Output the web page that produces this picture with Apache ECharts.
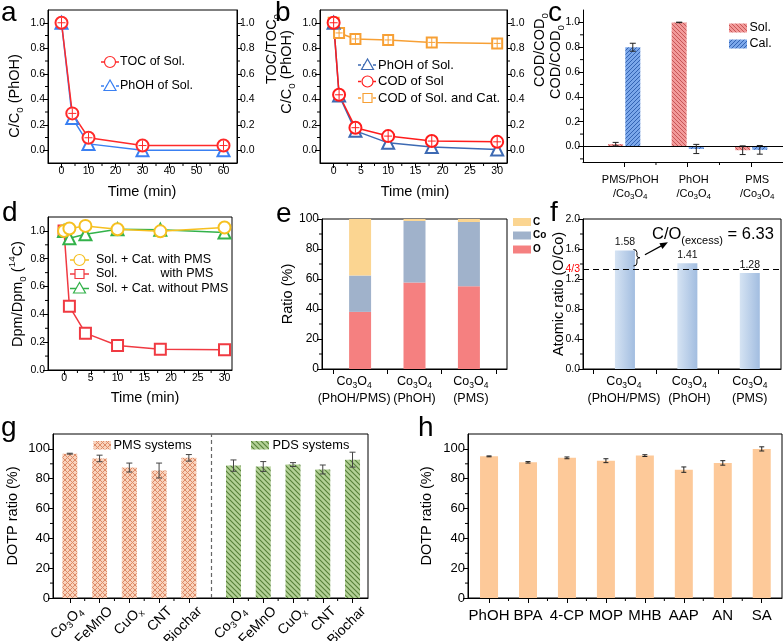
<!DOCTYPE html>
<html><head><meta charset="utf-8">
<script src="https://cdn.jsdelivr.net/npm/echarts@6.0.0/dist/echarts.min.js"></script>
<style>html,body{margin:0;padding:0;background:#fff;overflow:hidden}#chart{width:783px;height:641px}</style>
</head><body><div id="chart"></div>
<script>
// ====================== DATA ======================
// (a)
const aTime = [0, 4, 10, 30, 60];
const aTOC = [1.0, 0.289, 0.098, 0.037, 0.037];
const aPhOH = [1.0, 0.252, 0.05, 0.0, 0.0];
const aXTicks = [0, 10, 20, 30, 40, 50, 60];
const aXMinor = [5, 15, 25, 35, 45, 55];
// shared 0..1 ticks
const unitTicks = [0, 0.2, 0.4, 0.6, 0.8, 1.0];
const unitMinor = [0.1, 0.3, 0.5, 0.7, 0.9];
// (b)
const bTime = [0, 1, 4, 10, 18, 30];
const bPhOH = [1.0, 0.43, 0.152, 0.058, 0.026, 0.006];
const bCODSol = [1.0, 0.435, 0.177, 0.111, 0.072, 0.066];
const bCODSolCat = [1.0, 0.92, 0.873, 0.865, 0.846, 0.838];
const timeTicks30 = [0, 5, 10, 15, 20, 25, 30];
const timeMinor30 = [2.5, 7.5, 12.5, 17.5, 22.5, 27.5];
// (c)
const cCats = ['PMS/PhOH\n/Co_{3}O_{4}', 'PhOH\n/Co_{3}O_{4}', 'PMS\n/Co_{3}O_{4}'];
const cSol = [0.019, 1.0, -0.03];
const cSolErr = [0.014, 0.002, 0.035];
const cCal = [0.80, -0.02, -0.027];
const cCalErr = [0.032, 0.037, 0.035];
const cYMinor = [-0.1, 0.1, 0.3, 0.5, 0.7, 0.9];
// (d)
const dTime = [0, 1, 4, 10, 18, 30];
const dCatPMS = [1.0, 1.017, 1.036, 1.012, 0.997, 1.024];
const dSolPMS = [1.0, 0.458, 0.265, 0.176, 0.15, 0.145];
const dCatNoPMS = [1.0, 0.947, 0.976, 1.012, 1.008, 0.988];
// (e)
const eCats = ['Co_{3}O_{4}\n(PhOH/PMS)', 'Co_{3}O_{4}\n(PhOH)', 'Co_{3}O_{4}\n(PMS)'];
const eO = [38.1, 57.6, 55.2];
const eCo = [24.2, 41.1, 42.8];
const eC = [37.7, 1.3, 2.0];
const pctTicks = [0, 20, 40, 60, 80, 100];
const pctMinor = [10, 30, 50, 70, 90];
// (f)
const fCats = ['Co_{3}O_{4}\n(PhOH/PMS)', 'Co_{3}O_{4}\n(PhOH)', 'Co_{3}O_{4}\n(PMS)'];
const fRatio = [1.58, 1.41, 1.28];
const fRef = 4 / 3;
const fExcess = 6.33;
const fYTicks = [0, 0.4, 0.8, 1.2, 1.6, 2.0];
const fYMinor = [0.2, 0.6, 1.0, 1.4, 1.8];
// (g)
const gCats = ['Co_{3}O_{4}', 'FeMnO', 'CuO_{x}', 'CNT', 'Biochar'];
const gPMS = [96.8, 93.6, 87.5, 85.5, 94.0];
const gPMSErr = [0.3, 2.2, 3.0, 5.0, 2.2];
const gPDS = [88.8, 88.2, 89.5, 86.2, 92.8];
const gPDSErr = [3.8, 3.3, 1.3, 3.0, 5.0];
// (h)
const hCats = ['PhOH', 'BPA', '4-CP', 'MOP', 'MHB', 'AAP', 'AN', 'SA'];
const hDOTP = [95.0, 91.0, 94.0, 92.1, 95.5, 86.1, 90.6, 100.0];
const hErr = [0.3, 0.5, 0.6, 1.3, 0.6, 1.8, 1.5, 1.4];

// ====================== HELPERS ======================
const FONT = 'Liberation Sans';
function rt(s) {
  return s.split('\n').map(line => {
    let out = '', last = 0, m; const re = /([_^])\{([^}]*)\}/g;
    while ((m = re.exec(line))) {
      if (m.index > last) out += '{n|' + line.slice(last, m.index) + '}';
      out += '{' + (m[1] === '_' ? 's' : 'p') + '|' + m[2] + '}';
      last = re.lastIndex;
    }
    if (last < line.length) out += '{n|' + line.slice(last) + '}';
    return out;
  }).join('\n');
}
function rs(F, lh, color, weight, subF) {
  const sf = subF || Math.round(F * 0.68 * 10) / 10;
  const c = color || '#000';
  const base = { fontFamily: FONT, color: c, fill: c, fontWeight: weight || 'normal' };
  return {
    n: Object.assign({ fontSize: F, lineHeight: lh || Math.round(F * 1.45) }, base),
    s: Object.assign({ fontSize: sf, verticalAlign: 'bottom' }, base),
    p: Object.assign({ fontSize: sf, verticalAlign: 'top' }, base)
  };
}
const grids = [], xAxes = [], yAxes = [], series = [];
function G(l, t, r, b, frame) {
  grids.push({ left: l, top: t, width: r - l, height: b - t, show: !!frame, borderColor: '#000', borderWidth: 1, backgroundColor: 'transparent' });
  return grids.length - 1;
}
function AX(arr, gi, pos, min, max, ticks, labels, fmt, o) {
  o = o || {};
  const lab = { show: !!labels, formatter: fmt, fontSize: o.fs || 10.5, fontFamily: FONT, color: '#000', margin: o.m != null ? o.m : 3, rotate: o.rot || 0, showMinLabel: true, showMaxLabel: true, hideOverlap: false };
  if (labels) lab.customValues = labels;
  if (o.rich) lab.rich = o.rich;
  if (o.pad) lab.padding = o.pad;
  arr.push({
    type: 'value', gridIndex: gi, position: pos, min: min, max: max,
    axisLine: { show: true, onZero: false, lineStyle: { color: '#000', width: 1 } },
    axisTick: { show: ticks.length > 0, inside: false, length: o.tl || 5, customValues: ticks, lineStyle: { color: '#000', width: 1 } },
    axisLabel: lab,
    splitLine: { show: false }, minorTick: { show: false }, z: 10
  });
  return arr.length - 1;
}
function minorS(xi, yi, vals, side, anchor, len) {
  len = len || 3;
  series.push({
    type: 'custom', coordinateSystem: 'cartesian2d', xAxisIndex: xi, yAxisIndex: yi, silent: true, clip: false, z: 10,
    data: vals.map(v => [v, v]),
    renderItem: (p, api) => {
      const v = api.value(0); let c;
      if (side === 'left' || side === 'right') {
        c = api.coord([anchor, v]); const dx = side === 'left' ? -len : len;
        return { type: 'line', shape: { x1: c[0], y1: c[1], x2: c[0] + dx, y2: c[1] }, style: { stroke: '#000', lineWidth: 1 } };
      }
      c = api.coord([v, anchor]);
      return { type: 'line', shape: { x1: c[0], y1: c[1], x2: c[0], y2: c[1] + len }, style: { stroke: '#000', lineWidth: 1 } };
    }
  });
}
function lineS(xi, yi, xs, ys, color, symbol, size) {
  series.push({
    type: 'line', xAxisIndex: xi, yAxisIndex: yi, data: xs.map((x, i) => [x, ys[i]]),
    symbol: symbol, symbolSize: size || 11, showSymbol: true, silent: true, clip: false, z: 3,
    lineStyle: { color: color, width: 1.5 }, itemStyle: { color: color, borderColor: color, borderWidth: 1.2 }
  });
}
function plusS(xi, yi, xs, ys, color, r) {
  series.push({
    type: 'custom', coordinateSystem: 'cartesian2d', xAxisIndex: xi, yAxisIndex: yi, silent: true, clip: false, z: 4,
    data: xs.map((x, i) => [x, ys[i]]),
    renderItem: (p, api) => {
      const c = api.coord([api.value(0), api.value(1)]);
      return { type: 'group', children: [
        { type: 'line', shape: { x1: c[0], y1: c[1] - r, x2: c[0], y2: c[1] + r }, style: { stroke: color, lineWidth: 1 } },
        { type: 'line', shape: { x1: c[0] - r + 1, y1: c[1], x2: c[0] + r - 1, y2: c[1] }, style: { stroke: color, lineWidth: 1 } }
      ] };
    }
  });
}
function barS(xi, yi, data, w, fill, label) {
  series.push({
    type: 'custom', coordinateSystem: 'cartesian2d', xAxisIndex: xi, yAxisIndex: yi, silent: true, clip: false, z: 2,
    data: data,
    renderItem: (p, api) => {
      const x = api.value(0), y0 = api.value(1), y1 = api.value(2);
      const a = api.coord([x, y0]), b = api.coord([x, y1]);
      const top = Math.min(a[1], b[1]);
      const ch = [{ type: 'rect', shape: { x: a[0] - w / 2, y: top, width: w, height: Math.abs(a[1] - b[1]) }, style: { fill: fill } }];
      if (label) ch.push({ type: 'text', x: a[0], y: top - 2.5, style: { text: y1.toFixed(2), fontSize: 10.5, fontFamily: FONT, fill: '#111', align: 'center', verticalAlign: 'bottom', textAlign: 'center', textVerticalAlign: 'bottom' } });
      return { type: 'group', children: ch };
    }
  });
}
function errS(xi, yi, data, cap, color) {
  series.push({
    type: 'custom', coordinateSystem: 'cartesian2d', xAxisIndex: xi, yAxisIndex: yi, silent: true, clip: false, z: 5,
    data: data,
    renderItem: (p, api) => {
      const x = api.value(0), y = api.value(1), e = api.value(2);
      const t = api.coord([x, y + e]), b = api.coord([x, y - e]); const hw = cap / 2;
      const st = { stroke: color, lineWidth: 1 };
      return { type: 'group', children: [
        { type: 'line', shape: { x1: t[0], y1: t[1], x2: b[0], y2: b[1] }, style: st },
        { type: 'line', shape: { x1: t[0] - hw, y1: t[1], x2: t[0] + hw, y2: t[1] }, style: st },
        { type: 'line', shape: { x1: b[0] - hw, y1: b[1], x2: b[0] + hw, y2: b[1] }, style: st }
      ] };
    }
  });
}
function hatch(bg, fg, size, dirs, lw) {
  const c = document.createElement('canvas'); c.width = size; c.height = size;
  const g = c.getContext('2d'); g.fillStyle = bg; g.fillRect(0, 0, size, size);
  g.strokeStyle = fg; g.lineWidth = lw || 1;
  dirs.forEach(d => {
    g.beginPath();
    if (d === '\\') { g.moveTo(-1, -1); g.lineTo(size + 1, size + 1); g.moveTo(-2, size - 2); g.lineTo(2, size + 2); g.moveTo(size - 2, -2); g.lineTo(size + 2, 2); }
    else { g.moveTo(-1, size + 1); g.lineTo(size + 1, -1); g.moveTo(-2, 2); g.lineTo(2, -2); g.moveTo(size - 2, size + 2); g.lineTo(size + 2, size - 2); }
    g.stroke();
  });
  return { image: c, repeat: 'repeat' };
}
const fmt1 = v => v.toFixed(1);
const fmt0 = v => String(Math.round(v));

// ====================== PATTERNS / COLORS ======================
const patSol = hatch('#f29a9a', '#c24e4e', 4, ['\\'], 0.9);
const patCal = hatch('#7ba7ea', '#2c5cae', 4, ['/'], 0.9);
const patPMS = hatch('#f9d3bd', '#dd8c68', 5, ['\\', '/'], 1);
const patPDS = hatch('#b3d196', '#557f38', 5, ['\\'], 1.1);
const colO = '#f58080', colCo = '#a0b2cb', colC = '#fbd591';
const fGrad = { type: 'linear', x: 0, y: 0, x2: 1, y2: 0, colorStops: [{ offset: 0, color: '#d5e3f3' }, { offset: 1, color: '#a2bde0' }] };

// ====================== PANEL a ======================
const gA = G(48, 10, 237, 163, true);
const xA = AX(xAxes, gA, 'bottom', -5, 65, aXTicks, aXTicks, fmt0, { m: 3 });
const yA = AX(yAxes, gA, 'left', -0.1, 1.1, unitTicks, unitTicks, fmt1, { m: 3 });
AX(yAxes, gA, 'right', -0.1, 1.1, unitTicks, unitTicks, fmt1, { m: 3 });
minorS(xA, yA, aXMinor, 'bottom', -0.1); minorS(xA, yA, unitMinor, 'left', -5); minorS(xA, yA, unitMinor, 'right', 65);
lineS(xA, yA, aTime, aPhOH, '#3a80f2', 'emptyTriangle', 12);
lineS(xA, yA, aTime, aTOC, '#ff2a2a', 'emptyCircle', 12);
plusS(xA, yA, aTime, aTOC, '#ff2a2a', 5);

// ====================== PANEL b ======================
const gB = G(320, 10, 507, 163, true);
const xB = AX(xAxes, gB, 'bottom', -2.5, 31.8, timeTicks30, timeTicks30, fmt0, { m: 3 });
const yB = AX(yAxes, gB, 'left', -0.1, 1.1, unitTicks, unitTicks, fmt1, { m: 3 });
AX(yAxes, gB, 'right', -0.1, 1.1, unitTicks, unitTicks, fmt1, { m: 3 });
minorS(xB, yB, timeMinor30, 'bottom', -0.1); minorS(xB, yB, unitMinor, 'left', -2.5); minorS(xB, yB, unitMinor, 'right', 31.8);
lineS(xB, yB, bTime, bCODSolCat, '#f7a035', 'emptyRect', 10);
plusS(xB, yB, bTime.slice(1), bCODSolCat.slice(1), '#f7a035', 4.5);
lineS(xB, yB, bTime, bPhOH, '#3d6ab3', 'emptyTriangle', 12);
lineS(xB, yB, bTime, bCODSol, '#ff1c1c', 'emptyCircle', 12);
plusS(xB, yB, bTime, bCODSol, '#ff1c1c', 5);

// ====================== PANEL c ======================
const gC = G(583, 10, 783, 162, false);
const xC = AX(xAxes, gC, 'bottom', 0.351, 3.5, [1, 2, 3], [1, 2, 3], v => rt(cCats[Math.round(v) - 1]), { m: 11, fs: 11, rich: rs(11, 14, '#000', 'normal', 8), pad: [0, 0, 0, 12] });
const yC = AX(yAxes, gC, 'left', -0.125, 1.1, unitTicks, unitTicks, fmt1, { m: 3 });
minorS(xC, yC, [1.5, 2.5], 'bottom', -0.125); minorS(xC, yC, cYMinor, 'left', 0.351);
barS(xC, yC, cSol.map((v, i) => [i + 1 - 0.135, 0, v]), 15, patSol);
barS(xC, yC, cCal.map((v, i) => [i + 1 + 0.135, 0, v]), 15, patCal);
errS(xC, yC, cSol.map((v, i) => [i + 1 - 0.135, v, cSolErr[i]]), 6, '#222');
errS(xC, yC, cCal.map((v, i) => [i + 1 + 0.135, v, cCalErr[i]]), 6, '#222');
series.push({ type: 'line', xAxisIndex: xC, yAxisIndex: yC, data: [], markLine: { silent: true, symbol: 'none', animation: false, label: { show: false }, lineStyle: { color: '#000', width: 1, type: 'solid' }, data: [{ yAxis: 0 }] } });

// ====================== PANEL d ======================
const gD = G(48, 217, 232, 370, true);
const xD = AX(xAxes, gD, 'bottom', -3, 31.4, timeTicks30, timeTicks30, fmt0, { m: 3 });
const yD = AX(yAxes, gD, 'left', 0, 1.1, unitTicks, unitTicks, fmt1, { m: 3 });
minorS(xD, yD, timeMinor30, 'bottom', 0); minorS(xD, yD, unitMinor, 'left', -3);
lineS(xD, yD, dTime, dSolPMS, '#f03a42', 'emptyRect', 11);
lineS(xD, yD, dTime, dCatNoPMS, '#33b24a', 'emptyTriangle', 12);
lineS(xD, yD, dTime, dCatPMS, '#f6c020', 'emptyCircle', 12);

// ====================== PANEL e ======================
const gE = G(322, 219, 507, 369, true);
const xE = AX(xAxes, gE, 'bottom', 0.3, 3.7, [0.5, 1.5, 2.5, 3.5], null, null, {});
const yE = AX(yAxes, gE, 'left', 0, 100, pctTicks, pctTicks, fmt0, { m: 3, fs: 12 });
minorS(xE, yE, pctMinor, 'left', 0.3);
barS(xE, yE, eO.map((v, i) => [i + 1, 0, v]), 22, colO);
barS(xE, yE, eCo.map((v, i) => [i + 1, eO[i], eO[i] + v]), 22, colCo);
barS(xE, yE, eC.map((v, i) => [i + 1, eO[i] + eCo[i], eO[i] + eCo[i] + v]), 22, colC);

// ====================== PANEL f ======================
const gF = G(583, 219, 781, 369, true);
const xF = AX(xAxes, gF, 'bottom', 0.328, 3.5, [0.5, 1.5, 2.5], null, null, {});
const yF = AX(yAxes, gF, 'left', 0, 2.0, fYTicks, fYTicks, fmt1, { m: 3 });
minorS(xF, yF, fYMinor, 'left', 0.328);
barS(xF, yF, fRatio.map((v, i) => [i + 1, 0, v]), 20, fGrad, true);
series.push({ type: 'line', xAxisIndex: xF, yAxisIndex: yF, data: [], markLine: { silent: true, symbol: 'none', animation: false, label: { show: true, position: 'start', formatter: '4/3', color: '#ff0000', fontSize: 10.5, fontFamily: FONT, distance: 3 }, lineStyle: { color: '#000', width: 1.2, type: [6, 4] }, data: [{ yAxis: fRef }] } });

// ====================== PANEL g ======================
const gG = G(53, 434, 368, 598, true);
const gPos = gCats.map((c, i) => i).concat(gCats.map((c, i) => 5.5 + i));
const gNames = gCats.concat(gCats);
const xG = AX(xAxes, gG, 'bottom', -0.565, 10.02, gPos, null, null, {});
const yG = AX(yAxes, gG, 'left', 0, 110, pctTicks, pctTicks, fmt0, { m: 3, fs: 13 });
minorS(xG, yG, [0.5, 1.5, 2.5, 3.5, 6, 7, 8, 9], 'bottom', 0); minorS(xG, yG, pctMinor, 'left', -0.565);
barS(xG, yG, gPMS.map((v, i) => [i, 0, v]), 15, patPMS);
barS(xG, yG, gPDS.map((v, i) => [5.5 + i, 0, v]), 15, patPDS);
errS(xG, yG, gPMS.map((v, i) => [i, v, gPMSErr[i]]), 6, '#444');
errS(xG, yG, gPDS.map((v, i) => [5.5 + i, v, gPDSErr[i]]), 6, '#444');
series.push({ type: 'line', xAxisIndex: xG, yAxisIndex: yG, data: [], markLine: { silent: true, symbol: 'none', animation: false, label: { show: false }, lineStyle: { color: '#666', width: 1.2, type: [4, 3] }, data: [{ xAxis: 4.75 }] } });

// ====================== PANEL h ======================
const gH = G(468, 434, 782, 598, true);
const hPos = hCats.map((c, i) => i);
const xH = AX(xAxes, gH, 'bottom', -0.54, 7.52, hPos, hPos, v => hCats[Math.round(v)], { m: 10, fs: 15 });
const yH = AX(yAxes, gH, 'left', 0, 110, pctTicks, pctTicks, fmt0, { m: 3, fs: 13 });
minorS(xH, yH, [0.5, 1.5, 2.5, 3.5, 4.5, 5.5, 6.5], 'bottom', 0); minorS(xH, yH, pctMinor, 'left', -0.54);
barS(xH, yH, hDOTP.map((v, i) => [i, 0, v]), 18, '#fdc999');
errS(xH, yH, hDOTP.map((v, i) => [i, v, hErr[i]]), 5, '#222');

// ====================== RENDER ======================
const chart = echarts.init(document.getElementById('chart'), null, { renderer: 'canvas', width: 783, height: 641 });
chart.setOption({ animation: false, textStyle: { fontFamily: FONT }, grid: grids, xAxis: xAxes, yAxis: yAxes, series: series });

// ---------- graphics (texts, legends, annotations) ----------
const els = [];
function T(x, y, str, F, o) {
  o = o || {};
  els.push({ type: 'text', x: x, y: y, rotation: o.rot || 0, z: 100, silent: true,
    style: { text: rt(str), rich: rs(F, o.lh, o.color, o.bold, o.sub), fontSize: F, fontFamily: FONT, fill: o.color || '#000',
      align: o.align || 'left', textAlign: o.align || 'left', verticalAlign: 'middle', textVerticalAlign: 'middle' } });
}
const V = Math.PI / 2;
// panel letters
[['a', 1, 13.5], ['b', 275, 13.5], ['c', 548, 13.5], ['d', 2, 213], ['e', 276, 214], ['f', 550, 213.5], ['g', 1, 428], ['h', 418, 428]]
  .forEach(l => T(l[1], l[2], l[0], 28, { lh: 30 }));
// axis titles
T(15, 96, 'C/C_{0} (PhOH)', 14.5, { rot: V, align: 'center' });
T(142, 192, 'Time (min)', 14.5, { align: 'center' });
T(272, 49, 'TOC/TOC_{0}', 14.5, { rot: V, align: 'center' });
T(287, 72, 'C/C_{0} (PhOH)', 14.5, { rot: V, align: 'center' });
T(415, 192, 'Time (min)', 14.5, { align: 'center' });
T(540, 50, 'COD/COD_{0}', 14.5, { rot: V, align: 'center' });
T(556, 62, 'COD/COD_{0}', 14.5, { rot: V, align: 'center' });
T(18, 294, 'Dpm/Dpm_{0} (^{14}C)', 14.5, { rot: V, align: 'center' });
T(145, 398, 'Time (min)', 14.5, { align: 'center' });
T(288, 294, 'Ratio (%)', 14.5, { rot: V, align: 'center' });
T(559, 294, 'Atomic ratio (O/Co)', 14.5, { rot: V, align: 'center' });
T(13, 516, 'DOTP ratio (%)', 14.5, { rot: V, align: 'center' });
T(427, 516, 'DOTP ratio (%)', 14.5, { rot: V, align: 'center' });
// clip of the d-axis title (cropped in the original)
els.push({ type: 'rect', shape: { x: 90, y: 404.5, width: 120, height: 12 }, style: { fill: '#fff' }, z: 101, silent: true });

// e / f category labels (two lines) under the bars
const eLabShift = [-6, 0, 2], fLabShift = [-1, 2, 0];
[[xE, yE, eCats, eLabShift], [xF, yF, fCats, fLabShift]].forEach(set => {
  set[2].forEach((name, i) => {
    const pt = chart.convertToPixel({ xAxisIndex: set[0], yAxisIndex: set[1] }, [i + 1, 0]);
    T(pt[0] + set[3][i], pt[1] + 21.5, name, 12.5, { align: 'center', lh: 17, sub: 8.5 });
  });
});
// g category labels (rotated 45°), anchored at the axis ticks
gPos.forEach((p, i) => {
  const pt = chart.convertToPixel({ xAxisIndex: xG, yAxisIndex: yG }, [p, 0]);
  T(pt[0] + 11, pt[1] + 11, gNames[i], 14, { rot: Math.PI / 4, align: 'right', lh: 18, sub: 9.5 });
});

// legend symbols
function symCircle(cx, cy, col) { els.push({ type: 'circle', shape: { cx: cx, cy: cy, r: 5.5 }, style: { fill: '#fff', stroke: col, lineWidth: 1.2 }, z: 101 }); }
function symTri(cx, cy, col) { els.push({ type: 'polygon', shape: { points: [[cx, cy - 6], [cx - 6, cy + 4.5], [cx + 6, cy + 4.5]] }, style: { fill: '#fff', stroke: col, lineWidth: 1.2 }, z: 101 }); }
function symSq(cx, cy, col) { els.push({ type: 'rect', shape: { x: cx - 4.5, y: cy - 4.5, width: 9, height: 9 }, style: { fill: '#fff', stroke: col, lineWidth: 1.2 }, z: 101 }); }
function legLine(x1, x2, y, col, dash) { els.push({ type: 'line', shape: { x1: x1, y1: y, x2: x2, y2: y }, style: { stroke: col, lineWidth: 1.5, lineDash: dash || null }, z: 100 }); }
// a legend
legLine(101, 119, 62, '#ff2a2a', [3, 2]); symCircle(110, 62, '#ff2a2a'); T(120, 62, 'TOC of Sol.', 12.5);
legLine(101, 119, 86, '#3a80f2', [3, 2]); symTri(110, 86, '#3a80f2'); T(120, 86, 'PhOH of Sol.', 12.5);
// b legend
legLine(358, 377, 65, '#3d6ab3', [3, 2]); symTri(367.5, 65, '#3d6ab3'); T(378, 65, 'PhOH of Sol.', 13);
legLine(358, 377, 81.5, '#ff1c1c', [3, 2]); symCircle(367.5, 81.5, '#ff1c1c'); T(378, 81.5, 'COD of Sol', 13);
legLine(358, 377, 98, '#f7a035', [3, 2]); symSq(367.5, 98, '#f7a035'); T(378, 98, 'COD of Sol. and Cat.', 13);
// c legend
els.push({ type: 'rect', shape: { x: 729, y: 23.5, width: 18, height: 9 }, style: { fill: patSol }, z: 100 });
els.push({ type: 'rect', shape: { x: 729, y: 39.5, width: 18, height: 9 }, style: { fill: patCal }, z: 100 });
T(749.5, 28, 'Sol.', 12.5); T(749.5, 44, 'Cal.', 12.5);
// d legend
legLine(70, 89, 260, '#f6c020'); symCircle(79.5, 260, '#f6c020'); T(96, 260, 'Sol. + Cat. with PMS', 12.5);
legLine(70, 89, 274, '#f03a42'); symSq(79.5, 274, '#f03a42'); T(96, 274, 'Sol.', 12.5); T(160.5, 274, 'with PMS', 12.5);
legLine(70, 89, 288.5, '#33b24a'); symTri(79.5, 288.5, '#33b24a'); T(96, 288.5, 'Sol. + Cat. without PMS', 12.5);
// e legend
[[colC, 'C', 222], [colCo, 'Co', 235.5], [colO, 'O', 249.5]].forEach(r => {
  els.push({ type: 'rect', shape: { x: 513, y: r[2] - 4, width: 18, height: 8 }, style: { fill: r[0] }, z: 100 });
  T(533, r[2], r[1], 10, { bold: 'bold' });
});
// g legend
els.push({ type: 'rect', shape: { x: 93.5, y: 441, width: 17.5, height: 8.5 }, style: { fill: patPMS }, z: 100 });
T(113.5, 445, 'PMS systems', 12.8);
els.push({ type: 'rect', shape: { x: 251, y: 441, width: 18, height: 8.5 }, style: { fill: patPDS }, z: 100 });
T(272.5, 445, 'PDS systems', 12.8);

// f annotation (brace, arrow, text) positioned through the chart's scales
const pTop = chart.convertToPixel({ xAxisIndex: xF, yAxisIndex: yF }, [1, fRatio[0]]);
const pRef = chart.convertToPixel({ xAxisIndex: xF, yAxisIndex: yF }, [1, fRef]);
const bx0 = pTop[0] + 8.5, bx1 = bx0 + 3.5, btip = bx0 + 6.5, y1 = pTop[1] - 1, y2 = pRef[1] - 3, ym = (y1 + y2) / 2;
const bst = { stroke: '#000', lineWidth: 1, fill: null };
els.push({ type: 'bezierCurve', z: 100, shape: { x1: bx0, y1: y1, cpx1: bx1, cpy1: y1, x2: bx1, y2: y1 + 3 }, style: bst });
els.push({ type: 'line', z: 100, shape: { x1: bx1, y1: y1 + 3, x2: bx1, y2: ym - 2 }, style: bst });
els.push({ type: 'bezierCurve', z: 100, shape: { x1: bx1, y1: ym - 2, cpx1: bx1, cpy1: ym, x2: btip, y2: ym }, style: bst });
els.push({ type: 'bezierCurve', z: 100, shape: { x1: btip, y1: ym, cpx1: bx1, cpy1: ym, x2: bx1, y2: ym + 2 }, style: bst });
els.push({ type: 'line', z: 100, shape: { x1: bx1, y1: ym + 2, x2: bx1, y2: y2 - 3 }, style: bst });
els.push({ type: 'bezierCurve', z: 100, shape: { x1: bx1, y1: y2 - 3, cpx1: bx1, cpy1: y2, x2: bx0, y2: y2 }, style: bst });
const ax0 = btip + 5, ay0 = ym - 3, ax1 = btip + 28, ay1 = ym - 15.5;
const ang = Math.atan2(ay1 - ay0, ax1 - ax0);
els.push({ type: 'line', z: 100, shape: { x1: ax0, y1: ay0, x2: ax1 - 5 * Math.cos(ang), y2: ay1 - 5 * Math.sin(ang) }, style: { stroke: '#000', lineWidth: 1.3 } });
els.push({ type: 'polygon', z: 100, shape: { points: [[ax1, ay1], [ax1 - 8 * Math.cos(ang) + 3.2 * Math.sin(ang), ay1 - 8 * Math.sin(ang) - 3.2 * Math.cos(ang)], [ax1 - 8 * Math.cos(ang) - 3.2 * Math.sin(ang), ay1 - 8 * Math.sin(ang) + 3.2 * Math.cos(ang)]] }, style: { fill: '#000' } });
T(652, 234, 'C/O_{(excess)} = ' + fExcess.toFixed(2), 16.5, { lh: 24, sub: 11 });

chart.setOption({ graphic: { elements: els } });
</script>
</body></html>
